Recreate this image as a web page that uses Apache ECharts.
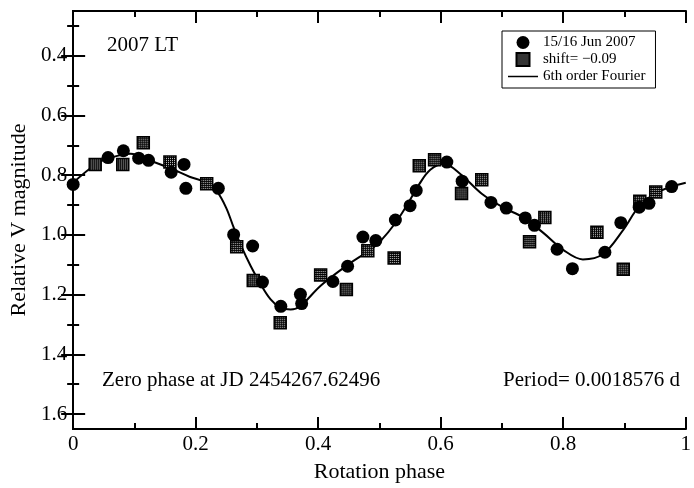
<!DOCTYPE html>
<html><head><meta charset="utf-8">
<script src="https://cdn.jsdelivr.net/npm/echarts@6/dist/echarts.min.js"></script>
<style>html,body{margin:0;padding:0;background:#fff}#c{width:694px;height:488px}</style>
</head><body><div id="c"></div>
<script>
// ---- data ----
const circlePhase = [0.0, 0.057, 0.082, 0.107, 0.123, 0.160, 0.181, 0.184, 0.237, 0.262, 0.293, 0.309, 0.339, 0.371, 0.373, 0.424, 0.448, 0.473, 0.494, 0.526, 0.550, 0.560, 0.610, 0.635, 0.682, 0.707, 0.738, 0.753, 0.790, 0.815, 0.868, 0.894, 0.924, 0.940, 0.977];
const circleMag   = [0.831, 0.741, 0.718, 0.743, 0.750, 0.790, 0.764, 0.844, 0.844, 0.999, 1.037, 1.158, 1.239, 1.199, 1.230, 1.156, 1.105, 1.007, 1.019, 0.950, 0.902, 0.851, 0.756, 0.820, 0.891, 0.910, 0.943, 0.968, 1.048, 1.113, 1.058, 0.959, 0.907, 0.894, 0.838];
const squarePhase = [0.036, 0.081, 0.1145, 0.158, 0.218, 0.267, 0.294, 0.338, 0.404, 0.446, 0.481, 0.524, 0.565, 0.590, 0.634, 0.667, 0.745, 0.770, 0.855, 0.898, 0.925, 0.951];
const squareMag   = [0.764, 0.764, 0.691, 0.756, 0.829, 1.040, 1.153, 1.294, 1.134, 1.183, 1.053, 1.077, 0.768, 0.748, 0.861, 0.815, 1.023, 0.942, 0.991, 1.115, 0.887, 0.856];
const fitPhase = [0.0, 0.036, 0.06, 0.094, 0.122, 0.16, 0.19, 0.218, 0.235, 0.25, 0.262, 0.275, 0.29, 0.306, 0.322, 0.338, 0.355, 0.371, 0.404, 0.447, 0.485, 0.502, 0.526, 0.545, 0.565, 0.583, 0.605, 0.632, 0.667, 0.702, 0.735, 0.768, 0.8, 0.832, 0.865, 0.898, 0.925, 0.958, 1.0];
const fitMag   = [0.825, 0.765, 0.742, 0.728, 0.748, 0.778, 0.805, 0.825, 0.855, 0.91, 0.975, 1.04, 1.105, 1.165, 1.215, 1.243, 1.25, 1.238, 1.17, 1.102, 1.05, 1.02, 0.96, 0.9, 0.83, 0.782, 0.762, 0.796, 0.862, 0.908, 0.942, 0.994, 1.05, 1.082, 1.064, 0.983, 0.902, 0.853, 0.825];
const xMajorTicks = [0, 0.2, 0.4, 0.6, 0.8, 1.0];
const xMinorTicks = [0.1, 0.3, 0.5, 0.7, 0.9];
const yMajorTicks = [0.4, 0.6, 0.8, 1.0, 1.2, 1.4, 1.6];
const yMinorTicks = [0.3, 0.5, 0.7, 0.9, 1.1, 1.3, 1.5];
const seriesNames = ['15/16 Jun 2007', 'shift= \u22120.09', '6th order Fourier'];
const titleText = '2007 LT';
const zeroText = 'Zero phase at JD 2454267.62496';
const periodText = 'Period= 0.0018576 d';
const xName = 'Rotation phase';
const yName = 'Relative V magnitude';

const FONT = '"Liberation Serif", "Times New Roman", serif';
const zip = (a, b) => a.map((v, i) => [v, b[i]]);

// dotted fill for square markers
const pc = document.createElement('canvas');
pc.width = 2; pc.height = 2;
const pctx = pc.getContext('2d');
pctx.fillStyle = '#000'; pctx.fillRect(0, 0, 2, 2);
pctx.fillStyle = '#d0d0d0'; pctx.fillRect(0, 0, 1, 1);
const SQ = 12;

const axisLine = {show: true, lineStyle: {color: '#000', width: 2}};
function xAx(pos, ticks, len, labels, name) {
  return {
    type: 'value', min: 0, max: 1, position: pos,
    axisLine: axisLine,
    axisTick: {show: true, inside: true, length: len, customValues: ticks, lineStyle: {color: '#000', width: 2}},
    axisLabel: labels ? {show: true, customValues: ticks, color: '#000', fontFamily: FONT, fontSize: 21, margin: 5} : {show: false},
    splitLine: {show: false},
    name: name || '', nameLocation: 'middle', nameGap: 32,
    nameTextStyle: {color: '#000', fontFamily: FONT, fontSize: 22}
  };
}
function yAx(pos, ticks, len, labels, name) {
  return {
    type: 'value', inverse: true, min: 0.25, max: 1.65, position: pos,
    axisLine: axisLine,
    axisTick: {show: true, inside: true, length: len, customValues: ticks, lineStyle: {color: '#000', width: 2}},
    axisLabel: labels ? {show: true, customValues: ticks, color: '#000', fontFamily: FONT, fontSize: 21, margin: 6,
      formatter: v => Number(v).toFixed(1)} : {show: false},
    splitLine: {show: false},
    name: name || '', nameLocation: 'middle', nameGap: 37, nameRotate: 90,
    nameTextStyle: {color: '#000', fontFamily: FONT, fontSize: 22}
  };
}

const chart = echarts.init(document.getElementById('c'), null, {renderer: 'canvas'});
chart.setOption({
  animation: false,
  backgroundColor: '#fff',
  grid: {left: 72, right: 8, top: 11, bottom: 48, containLabel: false},
  xAxis: [
    xAx('bottom', xMajorTicks, 12, true, xName),
    xAx('bottom', xMinorTicks, 6, false),
    xAx('top', xMajorTicks, 12, false),
    xAx('top', xMinorTicks, 6, false)
  ],
  yAxis: [
    yAx('left', yMajorTicks, 12, true, yName),
    yAx('left', yMinorTicks, 6, false),
    yAx('right', yMajorTicks, 12, false),
    yAx('right', yMinorTicks, 6, false)
  ],
  legend: {
    orient: 'vertical', left: 502, top: 31,
    padding: [4, 10, 4, 6], itemGap: 2, itemWidth: 30, itemHeight: 13,
    borderColor: '#000', borderWidth: 1, backgroundColor: '#fff',
    textStyle: {color: '#000', fontFamily: FONT, fontSize: 15},
    data: [
      {name: seriesNames[0], icon: 'circle'},
      {name: seriesNames[1], icon: 'path://M0,0H10V10H0Z'},
      {name: seriesNames[2], icon: 'path://M0,0H40V2H0Z'}
    ]
  },
  series: [
    {
      name: seriesNames[2], type: 'line', data: zip(fitPhase, fitMag),
      symbol: 'none', smooth: 0.35, z: 1,
      lineStyle: {color: '#000', width: 2}, itemStyle: {color: '#000'}
    },
    {
      name: seriesNames[1], type: 'scatter', data: zip(squarePhase, squareMag),
      symbol: 'rect', symbolSize: SQ, z: 2,
      itemStyle: {color: {image: pc, repeat: 'repeat', scaleX: 2 / SQ, scaleY: 2 / SQ}, borderColor: '#000', borderWidth: 1.5, opacity: 1}
    },
    {
      name: seriesNames[0], type: 'scatter', data: zip(circlePhase, circleMag),
      symbol: 'circle', symbolSize: 13, z: 3,
      itemStyle: {color: '#000', opacity: 1}
    }
  ],
  graphic: [
    {type: 'text', x: 107, y: 45, style: {text: titleText, font: '21px ' + FONT, fill: '#000', verticalAlign: 'middle'}},
    {type: 'text', x: 102, y: 380, style: {text: zeroText, font: '21px ' + FONT, fill: '#000', verticalAlign: 'middle'}},
    {type: 'text', x: 680, y: 380, style: {text: periodText, font: '21px ' + FONT, fill: '#000', align: 'right', verticalAlign: 'middle'}}
  ]
});
</script>
</body></html>
